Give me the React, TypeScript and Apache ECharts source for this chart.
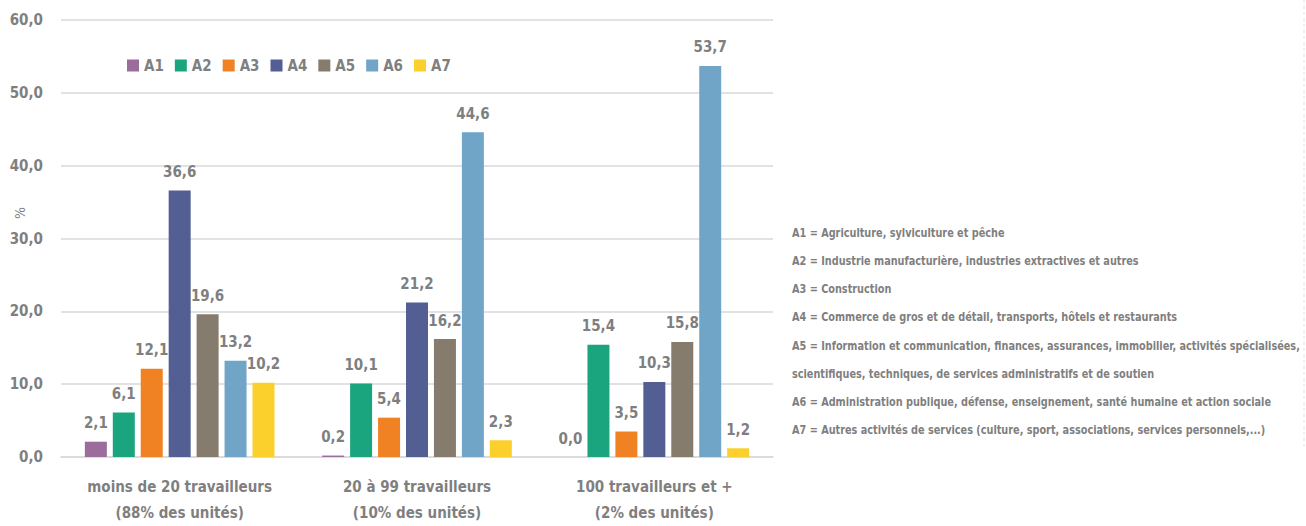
import React, { useEffect, useRef } from "react";
import * as echarts from "echarts";

const categories = [
  "moins de 20 travailleurs\n(88% des unités)",
  "20 à 99 travailleurs\n(10% des unités)",
  "100 travailleurs et +\n(2% des unités)",
];
const seriesNames = ["A1", "A2", "A3", "A4", "A5", "A6", "A7"];
const A1 = [2.1, 0.2, 0.0];
const A2 = [6.1, 10.1, 15.4];
const A3 = [12.1, 5.4, 3.5];
const A4 = [36.6, 21.2, 10.3];
const A5 = [19.6, 16.2, 15.8];
const A6 = [13.2, 44.6, 53.7];
const A7 = [10.2, 2.3, 1.2];
const seriesValues = [A1, A2, A3, A4, A5, A6, A7];
const colors = ["#9b6d9b", "#1aa57e", "#f08223", "#535f93", "#857c6d", "#71a5c8", "#fcd02c"];
const yTicks = { min: 0, max: 60, interval: 10 };
const notes = [
  "A1 = Agriculture, sylviculture et pêche",
  "A2 = Industrie manufacturière, industries extractives et autres",
  "A3 = Construction",
  "A4 = Commerce de gros et de détail, transports, hôtels et restaurants",
  "A5 = Information et communication, finances, assurances, immobilier, activités spécialisées,",
  "scientifiques, techniques, de services administratifs et de soutien",
  "A6 = Administration publique, défense, enseignement, santé humaine et action sociale",
  "A7 = Autres activités de services (culture, sport, associations, services personnels,...)",
];
const noteY = [233, 261, 289, 317, 346, 374, 402, 430];

const FONT = "'DejaVu Sans Condensed', 'DejaVu Sans', sans-serif";
const GRAY = "#7f7f7f";
const fmt = (v: number) => v.toFixed(1).replace(".", ",");

export default function App() {
  const ref = useRef<HTMLDivElement>(null);
  useEffect(() => {
    if (!ref.current) return;
    const chart = echarts.init(ref.current, undefined, { renderer: "svg" });
    chart.setOption({
      animation: false,
      textStyle: { fontFamily: FONT },
      grid: { left: 61, right: 533, top: 20, bottom: 62, containLabel: false },
      legend: {
        data: seriesNames,
        left: 122,
        top: 53,
        itemWidth: 12,
        itemHeight: 12,
        itemGap: 11,
        icon: "rect",
        textStyle: { color: GRAY, fontSize: 15, fontWeight: "bold", fontFamily: FONT },
      },
      xAxis: {
        type: "category",
        data: categories,
        axisLine: { lineStyle: { color: "#d9d9d9", width: 1.5 } },
        axisTick: { show: false },
        axisLabel: {
          color: GRAY,
          fontSize: 15,
          fontWeight: "bold",
          fontFamily: FONT,
          lineHeight: 26,
          margin: 17,
          interval: 0,
        },
      },
      yAxis: {
        type: "value",
        min: yTicks.min,
        max: yTicks.max,
        interval: yTicks.interval,
        axisLine: { show: false },
        axisTick: { show: false },
        splitLine: { lineStyle: { color: "#d9d9d9", width: 1.5 } },
        axisLabel: {
          color: GRAY,
          fontSize: 15,
          fontWeight: "bold",
          fontFamily: FONT,
          margin: 18,
          formatter: (v: number) => fmt(v),
        },
      },
      series: seriesNames.map((name, i) => ({
        name,
        type: "bar",
        data: seriesValues[i],
        barWidth: 22,
        barGap: "27%",
        itemStyle: { color: colors[i] },
        label: {
          show: true,
          position: "top",
          distance: 11,
          color: GRAY,
          fontSize: 15,
          fontWeight: "bold",
          fontFamily: FONT,
          formatter: (p: any) => fmt(p.value),
        },
      })),
      graphic: [
        {
          type: "text",
          x: 20,
          y: 213,
          rotation: Math.PI / 2,
          style: {
            text: "%",
            fill: GRAY,
            font: `14px ${FONT}`,
            textAlign: "center",
            textVerticalAlign: "middle",
          },
        },
        {
          type: "line",
          shape: { x1: 1304, y1: 0, x2: 1304, y2: 447 },
          style: { stroke: "#e0e0e0", lineWidth: 1, lineDash: [3, 3] },
        },
        ...notes.map((t, i) => ({
          type: "text",
          x: 792,
          y: noteY[i],
          scaleX: 0.9,
          style: {
            text: t,
            fill: GRAY,
            font: `bold 12px ${FONT}`,
            textAlign: "left",
            textVerticalAlign: "middle",
          },
        })),
      ],
    });
    return () => chart.dispose();
  }, []);
  return (
    <div
      ref={ref}
      style={{ position: "absolute", left: 0, top: 0, width: 1306, height: 526, background: "#fff" }}
    />
  );
}
